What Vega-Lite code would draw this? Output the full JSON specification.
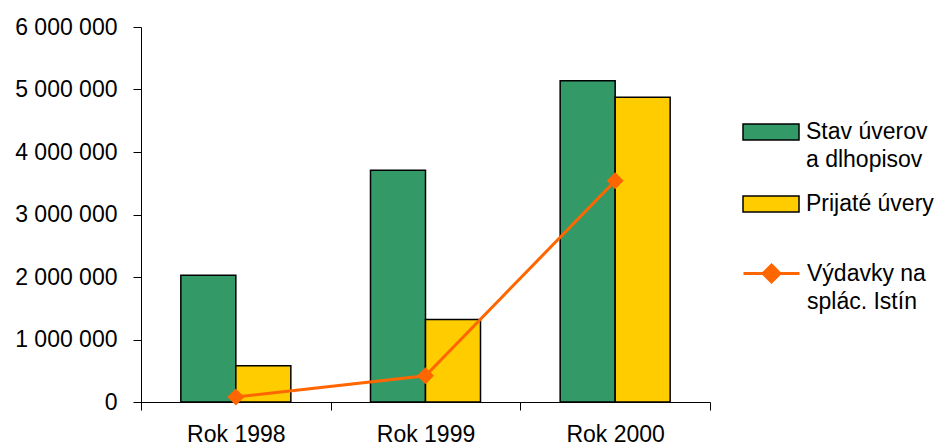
{
  "$schema": "https://vega.github.io/schema/vega-lite/v6.json",
  "width": 569,
  "height": 375,
  "autosize": {"type": "none"},
  "padding": {"left": 141, "top": 27, "right": 228, "bottom": 44},
  "background": "white",
  "config": {
    "view": {"stroke": null},
    "font": "Liberation Sans",
    "locale": {"number": {"decimal": ",", "thousands": " ", "grouping": [3], "currency": ["", " €"]}},
    "axis": {"domainColor": "black", "tickColor": "black", "labelColor": "black", "labelFont": "Liberation Sans", "labelFontSize": 23, "tickSize": 8, "grid": false, "title": null}
  },
  "datasets": {
    "bars": [
      {"rok": "Rok 1998", "seria": "Stav úverov a dlhopisov", "hodnota": 2030000},
      {"rok": "Rok 1998", "seria": "Prijaté úvery", "hodnota": 580000},
      {"rok": "Rok 1999", "seria": "Stav úverov a dlhopisov", "hodnota": 3710000},
      {"rok": "Rok 1999", "seria": "Prijaté úvery", "hodnota": 1320000},
      {"rok": "Rok 2000", "seria": "Stav úverov a dlhopisov", "hodnota": 5140000},
      {"rok": "Rok 2000", "seria": "Prijaté úvery", "hodnota": 4875000}
    ],
    "line": [
      {"rok": "Rok 1998", "seria": "Výdavky na splác. Istín", "hodnota": 80000},
      {"rok": "Rok 1999", "seria": "Výdavky na splác. Istín", "hodnota": 420000},
      {"rok": "Rok 2000", "seria": "Výdavky na splác. Istín", "hodnota": 3540000}
    ]
  },
  "layer": [
    {
      "data": {"name": "bars"},
      "mark": {"type": "bar", "stroke": "black", "strokeWidth": 1.5},
      "encoding": {
        "x": {
          "field": "rok", "type": "nominal", "sort": null,
          "scale": {"paddingInner": 0, "paddingOuter": 0},
          "axis": {"labelAngle": 0, "labelPadding": 13, "tickBand": "extent", "domainWidth": 1,
                   "encode": {"ticks": {"update": {"y": {"value": -9}}}}}
        },
        "xOffset": {"field": "seria", "type": "nominal", "sort": null, "scale": {"paddingInner": 0, "paddingOuter": 0.724}},
        "y": {
          "field": "hodnota", "type": "quantitative",
          "scale": {"domain": [0, 6000000], "nice": false},
          "axis": {"tickCount": 6, "labelPadding": 16, "format": ",d",
                   "encode": {"ticks": {"update": {"x": {"value": 9}}}}}
        },
        "fill": {
          "field": "seria", "type": "nominal", "sort": null,
          "scale": {"domain": ["Stav úverov a dlhopisov", "Prijaté úvery"], "range": ["#339966", "#FFCC00"]},
          "legend": {
            "orient": "none", "legendX": 601, "legendY": 88, "title": null, "padding": 0,
            "symbolType": "M-1,-0.5H2.5V0.5H-1Z", "symbolSize": 1024,
            "symbolStrokeColor": "black", "symbolStrokeWidth": 1.5,
            "labelFontSize": 23, "labelFont": "Liberation Sans", "labelColor": "black", "labelOffset": 30, "labelLimit": 0,
            "rowPadding": 15,
            "labelExpr": "datum.label == 'Stav úverov a dlhopisov' ? ['Stav úverov', 'a dlhopisov'] : datum.label",
            "encode": {"labels": {"update": {"lineHeight": {"value": 28}}}}
          }
        }
      }
    },
    {
      "data": {"name": "line"},
      "mark": {"type": "line", "strokeWidth": 3},
      "encoding": {
        "x": {"field": "rok", "type": "nominal", "sort": null},
        "y": {"field": "hodnota", "type": "quantitative"},
        "stroke": {
          "field": "seria", "type": "nominal",
          "scale": {"domain": ["Výdavky na splác. Istín"], "range": ["#FF6600"]},
          "legend": {
            "orient": "none", "legendX": 601, "legendY": 229, "title": null, "padding": 0,
            "symbolType": "M-1,0H2.5M0.75,-0.53L1.28,0L0.75,0.53L0.22,0Z", "symbolSize": 1024,
            "symbolStrokeWidth": 3, "symbolFillColor": "#FF6600",
            "labelFontSize": 23, "labelFont": "Liberation Sans", "labelColor": "black", "labelOffset": 30, "labelLimit": 0,
            "labelExpr": "['Výdavky na', 'splác. Istín']",
            "encode": {"symbols": {"update": {"fill": {"value": "#FF6600"}, "stroke": {"value": "#FF6600"}}},
                       "labels": {"update": {"lineHeight": {"value": 28}}}}
          }
        }
      }
    },
    {
      "data": {"name": "line"},
      "mark": {"type": "point", "shape": "diamond", "filled": true, "size": 289, "color": "#FF6600", "opacity": 1},
      "encoding": {
        "x": {"field": "rok", "type": "nominal", "sort": null},
        "y": {"field": "hodnota", "type": "quantitative"}
      }
    }
  ]
}
